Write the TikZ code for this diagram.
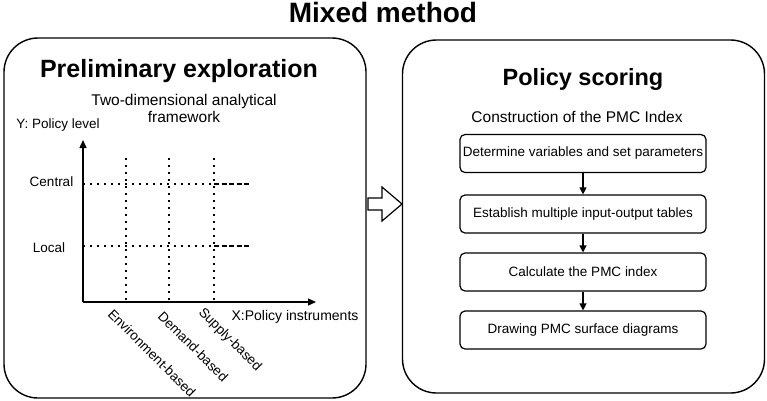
\documentclass[tikz,border=0pt]{standalone}
\usepackage{fontspec}
\setmainfont{Liberation Sans}
\usetikzlibrary{arrows.meta}
\begin{document}
\begin{tikzpicture}[x=1pt,y=-1pt]
  \tikzset{bigbox/.style={draw,line width=1.4pt,rounded corners=34pt,inner sep=0pt},
    stepbox/.style={draw,line width=1.2pt,rounded corners=5pt,minimum width=246pt,minimum height=38pt,inner sep=2pt,font=\fontsize{13.5}{16}\selectfont},
    lbl/.style={inner sep=0pt,font=\fontsize{13.5}{16}\selectfont},
    grid/.style={line width=1.6pt,dash pattern=on 1.6pt off 5.4pt},
    gridend/.style={line width=1.6pt,dash pattern=on 5pt off 2.5pt},
    axis/.style={line width=1.3pt,-{Triangle[length=8pt,width=7pt]}},
    flow/.style={line width=1.2pt,-{Triangle[length=7pt,width=7pt]}}}
  \useasboundingbox (0,0) rectangle (767,400);
  % title and the two panels
  \node[font=\fontsize{28}{32}\bfseries] (title) at (383,22) [anchor=base] {Mixed method};
  \node[bigbox,minimum width=362pt,minimum height=360pt] (left) at (185,218) {};
  \node[bigbox,minimum width=362pt,minimum height=353pt] (right) at (583.5,216.5) {};
  \draw[line width=1.2pt,fill=white] (368,198) -- (382,198) -- (382,187) -- (402,204)
    -- (382,221) -- (382,210) -- (368,210) -- cycle;
  % left panel
  \node[font=\fontsize{25}{30}\bfseries,anchor=base] (prelim) at (179,77) {Preliminary exploration};
  \node[font=\fontsize{15.5}{17}\selectfont,align=center,anchor=base] (frame) at (184,122) {Two-dimensional analytical\\framework};
  \coordinate (o) at (83,302);
  \coordinate (ytop) at (83,140);
  \coordinate (xend) at (316,302);
  \draw[axis] (o) -- (ytop);
  \draw[axis] (o) -- (xend);
  \node[lbl] (ylab) at (58,125) {Y: Policy level};
  \node[lbl] (central) at (51.5,182) {Central};
  \node[lbl] (local) at (49,248) {Local};
  \node[lbl,font=\fontsize{14}{16}\selectfont] (xlab) at (295,317) {X:Policy instruments};
  \coordinate (c1) at (83,184); \coordinate (c2) at (214,184); \coordinate (c3) at (249,184);
  \coordinate (l1) at (83,246); \coordinate (l2) at (214,246); \coordinate (l3) at (249,246);
  \draw[grid] (c1) -- (c2); \draw[gridend] (c2) -- (c3);
  \draw[grid] (l1) -- (l2); \draw[gridend] (l2) -- (l3);
  \foreach \x in {126,169,214}
    \draw[grid] (\x,158) -- (\x,302);
  \node[lbl,anchor=north west,rotate=-45] (env) at (114,308) {Environment-based};
  \node[lbl,anchor=north west,rotate=-45] (dem) at (164,310) {Demand-based};
  \node[lbl,anchor=north west,rotate=-45] (sup) at (205,306) {Supply-based};
  % right panel
  \node[font=\fontsize{23.5}{28}\bfseries,anchor=base] (score) at (583,85) {Policy scoring};
  \node[font=\fontsize{15.5}{18}\selectfont,anchor=base] (pmc) at (577,122) {Construction of the PMC Index};
  \node[stepbox] (s1) at (583,153.5) {Determine variables and set parameters};
  \node[stepbox] (s2) at (583,214) {Establish multiple input-output tables};
  \node[stepbox] (s3) at (583,272) {Calculate the PMC index};
  \node[stepbox] (s4) at (583,330) {Drawing PMC surface diagrams};
  \draw[flow] (s1) -- (s2);
  \draw[flow] (s2) -- (s3);
  \draw[flow] (s3) -- (s4);
\end{tikzpicture}
\end{document}
